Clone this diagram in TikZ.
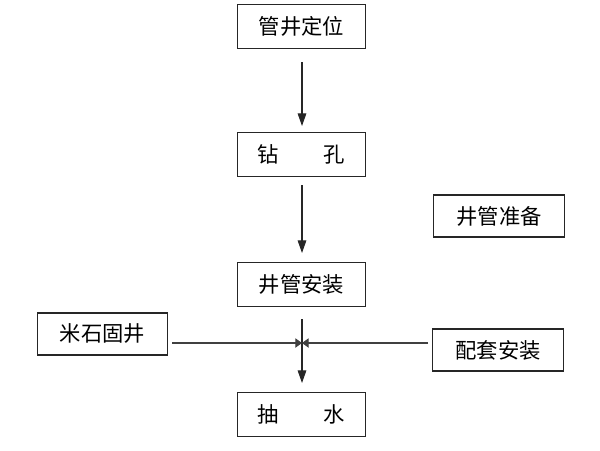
\documentclass[tikz,border=0pt]{standalone}
\usepackage{fontspec}
\setmainfont{Noto Sans CJK SC}
\usetikzlibrary{arrows.meta}
\begin{document}
\begin{tikzpicture}[x=0.75pt,y=-0.75pt,
  box/.style={draw=black!85,line width=0.8pt,minimum width=96.5pt,minimum height=33pt,inner sep=0pt,font=\fontsize{16}{19}\selectfont},
  sbox/.style={box,minimum width=98pt,minimum height=31.5pt},
  flow/.style={draw=black!85,line width=0.8pt,-{Triangle[length=9.5pt,width=6.5pt]}},
  side/.style={draw=black!75,line width=0.8pt,-{Triangle[length=5pt,width=7pt]}}]
\useasboundingbox (0,0) rectangle (600,450);
\node[box] (a) at (301.5,26.5) {管井定位};
\node[box] (b) at (301.5,154.5) {钻\hspace{2.1em}孔};
\node[box] (c) at (301.5,284.5) {井管安装};
\node[box] (d) at (301.5,414.5) {抽\hspace{2.1em}水};
\node[sbox] (p) at (499,216) {井管准备};
\node[sbox] (m) at (102.5,334) {米石固井};
\node[sbox] (s) at (498,350) {配套安装};
\coordinate (x) at (302,343);
\coordinate (a1) at (302,62);
\coordinate (a2) at (302,126);
\coordinate (b1) at (302,185);
\coordinate (b2) at (302,253);
\coordinate (c1) at (302,319);
\coordinate (c2) at (302,383);
\coordinate (ml) at (172,343);
\coordinate (sr) at (428,343);
\draw[flow] (a1) -- (a2);
\draw[flow] (b1) -- (b2);
\draw[flow] (c1) -- (c2);
\draw[side] (ml) -- (x);
\draw[side] (sr) -- (x);
\end{tikzpicture}
\end{document}
